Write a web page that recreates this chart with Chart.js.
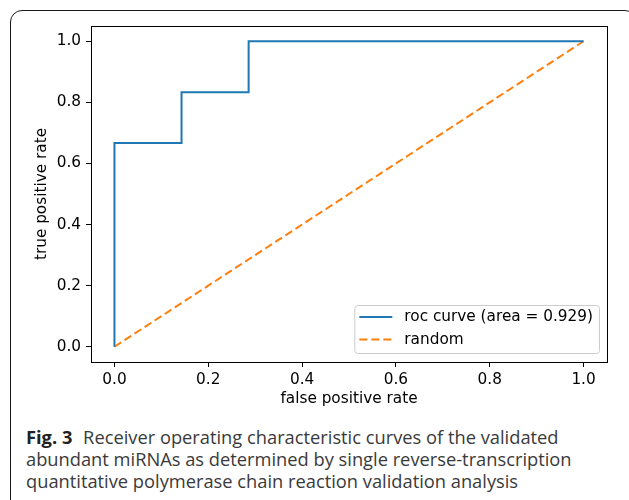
<!DOCTYPE html>
<html>
<head>
<meta charset="utf-8">
<script src="https://cdn.jsdelivr.net/npm/chart.js@4/dist/chart.umd.min.js"></script>
<style>
  html, body { margin: 0; padding: 0; background: #fff; }
  body { width: 629px; height: 500px; position: relative; overflow: hidden; }
  #frame {
    position: absolute; left: 10px; top: 10px; width: 624px; height: 530px;
    border: 1.5px solid #1a1a1a; border-radius: 12px 9px 0 12px; box-sizing: border-box;
  }
  #wrap { position: absolute; left: 0; top: 0; width: 629px; height: 410px; }
  #caption {
    position: absolute; left: 26px; top: 426px;
    font-family: "Open Sans", sans-serif; font-size: 18.3px; line-height: 22px;
    color: #3a3a3a; white-space: nowrap;
  }
  #caption b { color: #222; font-weight: 700; margin-right: 6px; }
</style>
</head>
<body>
<div id="frame"></div>
<div id="wrap"><canvas id="roc"></canvas></div>
<div id="caption"><b>Fig. 3</b> Receiver operating characteristic curves of the validated<br>abundant miRNAs as determined by single reverse-transcription<br>quantitative polymerase chain reaction validation analysis</div>
<script>
const fpr = [0, 0, 0.143, 0.143, 0.286, 0.286, 1];
const tpr = [0, 0.667, 0.667, 0.833, 0.833, 1, 1];
const randomX = [0, 1];
const randomY = [0, 1];
const tickValues = [0, 0.2, 0.4, 0.6, 0.8, 1.0];
const seriesLabels = ['roc curve (area = 0.929)', 'random'];

const tickFont = { family: 'DejaVu Sans', size: 15.3 };

// box around the plot + legend in the lower right, matplotlib style
const boxAndLegend = {
    id: 'boxAndLegend',
    afterDraw(chart) {
        const ctx = chart.ctx;
        const a = chart.chartArea;
        ctx.save();
        ctx.strokeStyle = '#000';
        ctx.lineWidth = 1;
        ctx.strokeRect(Math.round(a.left) + 0.5, Math.round(a.top) + 0.5,
            Math.round(a.right - a.left), Math.round(a.bottom - a.top));

        ctx.font = '15.3px "DejaVu Sans"';
        let textW = 0;
        chart.data.datasets.forEach(ds => { textW = Math.max(textW, ctx.measureText(ds.label).width); });
        const w = 50 + textW + 6;
        const h = 48;
        const x = a.right - 8 - w;
        const y = a.bottom - 9 - h;
        ctx.beginPath();
        ctx.roundRect(x + 0.5, y + 0.5, w, h, 3);
        ctx.fillStyle = 'rgba(255,255,255,0.8)';
        ctx.fill();
        ctx.strokeStyle = '#cccccc';
        ctx.stroke();

        chart.data.datasets.forEach((ds, i) => {
            const ry = y + 12 + i * 22.6;
            ctx.beginPath();
            ctx.setLineDash(ds.borderDash || []);
            ctx.strokeStyle = ds.borderColor;
            ctx.lineWidth = ds.borderWidth;
            ctx.moveTo(x + 5, ry);
            ctx.lineTo(x + 38, ry);
            ctx.stroke();
            ctx.setLineDash([]);
            ctx.fillStyle = '#000';
            ctx.textBaseline = 'middle';
            ctx.fillText(ds.label, x + 50, ry);
        });
        ctx.restore();
    }
};

const ctx = document.getElementById('roc').getContext('2d');

const rocChart = new Chart(ctx, {
    type: 'line',
    data: {
        datasets: [{
            label: seriesLabels[0],
            data: fpr.map((v, i) => ({ x: v, y: tpr[i] })),
            borderColor: '#1f77b4',
            borderWidth: 2,
            pointRadius: 0,
            fill: false,
            tension: 0
        }, {
            label: seriesLabels[1],
            data: randomX.map((v, i) => ({ x: v, y: randomY[i] })),
            borderColor: '#ff7f0e',
            borderWidth: 2,
            borderDash: [8, 4],
            pointRadius: 0,
            fill: false,
            tension: 0
        }]
    },
    options: {
        responsive: true,
        maintainAspectRatio: false,
        animation: false,
        layout: { padding: { left: 0, right: 22, top: 26, bottom: 0 } },
        plugins: {
            legend: { display: false },
            tooltip: { enabled: false }
        },
        scales: {
            x: {
                type: 'linear',
                min: -0.05,
                max: 1.05,
                afterBuildTicks: (scale) => { scale.ticks = tickValues.map(v => ({ value: v })); },
                afterFit: (scale) => { scale.height = 48; },
                ticks: {
                    color: '#000',
                    font: tickFont,
                    padding: 4,
                    maxRotation: 0,
                    callback: (v) => v.toFixed(1)
                },
                grid: { display: true, drawOnChartArea: false, drawTicks: true, tickLength: 5, color: '#000' },
                border: { display: true, color: '#000', width: 1 },
                title: {
                    display: true,
                    text: 'false positive rate',
                    color: '#000',
                    font: tickFont,
                    padding: { top: 0, bottom: 2 }
                }
            },
            y: {
                type: 'linear',
                min: -0.05,
                max: 1.05,
                afterBuildTicks: (scale) => { scale.ticks = tickValues.map(v => ({ value: v })); },
                afterFit: (scale) => { scale.width = 91; },
                ticks: {
                    color: '#000',
                    font: tickFont,
                    padding: 5,
                    callback: (v) => v.toFixed(1)
                },
                grid: { display: true, drawOnChartArea: false, drawTicks: true, tickLength: 5, color: '#000' },
                border: { display: true, color: '#000', width: 1 },
                title: {
                    display: true,
                    text: 'true positive rate',
                    color: '#000',
                    font: tickFont,
                    padding: { top: 33, bottom: 0 }
                }
            }
        }
    },
    plugins: [boxAndLegend]
});
</script>
</body>
</html>
